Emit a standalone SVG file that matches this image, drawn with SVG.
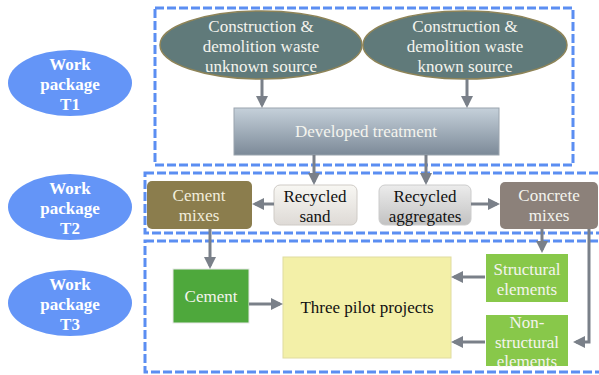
<svg xmlns="http://www.w3.org/2000/svg" width="599" height="375" viewBox="0 0 599 375">
<defs>
<style>
.wp{fill:#6495f7}
.wpt{font-family:'Liberation Serif',serif;font-size:17px;font-weight:bold;fill:#ffffff;text-anchor:middle}
.dash{fill:#ffffff;stroke:#5b8ef2;stroke-width:3;stroke-dasharray:9 3}
.t{font-family:'Liberation Serif',serif;font-size:17px;text-anchor:middle}
.w{fill:#f4f4ee}
.k{fill:#111111}
.conn{stroke:#7a8089;stroke-width:3;fill:none;marker-end:url(#ah)}
</style>
<linearGradient id="gDT" x1="0" y1="0" x2="0" y2="1">
<stop offset="0" stop-color="#c5d0da"/>
<stop offset="1" stop-color="#7c8a98"/>
</linearGradient>
<linearGradient id="gRS" x1="0" y1="0" x2="0" y2="1">
<stop offset="0" stop-color="#f8f7f3"/>
<stop offset="1" stop-color="#dedad6"/>
</linearGradient>
<linearGradient id="gRA" x1="0" y1="0" x2="0" y2="1">
<stop offset="0" stop-color="#ececec"/>
<stop offset="1" stop-color="#c2c2c2"/>
</linearGradient>
<marker id="ah" markerWidth="4" markerHeight="4" refX="3" refY="2" orient="auto" markerUnits="strokeWidth">
<path d="M0,0 L4,2 L0,4 z" fill="#7a8089"/>
</marker>
</defs>
<rect width="599" height="375" fill="#ffffff"/>

<g id="frames">
<rect class="dash" x="145" y="241" width="470" height="131"/>
<rect class="dash" x="145" y="173" width="470" height="60"/>
<rect class="dash" x="155" y="8" width="418" height="157"/>
</g>

<g id="wpT1"><ellipse class="wp" cx="70" cy="83" rx="62" ry="33"/>
<text class="wpt" font-family="Liberation Serif" x="70" y="70">Work</text><text class="wpt" font-family="Liberation Serif" x="70" y="90">package</text><text class="wpt" font-family="Liberation Serif" x="70" y="110">T1</text></g>
<g id="wpT2"><ellipse class="wp" cx="70" cy="207" rx="62" ry="33"/>
<text class="wpt" font-family="Liberation Serif" x="70" y="194">Work</text><text class="wpt" font-family="Liberation Serif" x="70" y="214">package</text><text class="wpt" font-family="Liberation Serif" x="70" y="234">T2</text></g>
<g id="wpT3"><ellipse class="wp" cx="70" cy="303" rx="62" ry="33"/>
<text class="wpt" font-family="Liberation Serif" x="70" y="290">Work</text><text class="wpt" font-family="Liberation Serif" x="70" y="310">package</text><text class="wpt" font-family="Liberation Serif" x="70" y="330">T3</text></g>

<g id="cdwUnknown"><ellipse cx="261" cy="45" rx="101" ry="34" fill="#607a7a" stroke="#8e8458" stroke-width="1.5"/>
<text class="t w" font-family="Liberation Serif" x="261" y="32">Construction &amp;</text><text class="t w" font-family="Liberation Serif" x="261" y="52">demolition waste</text><text class="t w" font-family="Liberation Serif" x="261" y="72">unknown source</text></g>
<g id="cdwKnown"><ellipse cx="465" cy="45" rx="102" ry="34" fill="#607a7a" stroke="#8e8458" stroke-width="1.5"/>
<text class="t w" font-family="Liberation Serif" x="465" y="32">Construction &amp;</text><text class="t w" font-family="Liberation Serif" x="465" y="52">demolition waste</text><text class="t w" font-family="Liberation Serif" x="465" y="72">known source</text></g>

<g id="treatment"><rect x="234" y="108" width="265" height="47" fill="url(#gDT)" stroke="#9aa4ae" stroke-width="1"/>
<text class="t w" font-family="Liberation Serif" x="366" y="137">Developed treatment</text></g>

<g id="cementMixes"><rect x="147" y="181" width="105" height="48" rx="5" fill="#8b7d4d"/>
<text class="t" font-family="Liberation Serif" x="199" y="201" fill="#f2eedc">Cement</text><text class="t" font-family="Liberation Serif" x="199" y="221" fill="#f2eedc">mixes</text></g>
<g id="recycledSand"><rect x="274" y="185" width="83" height="40" rx="6" fill="url(#gRS)" stroke="#cfcbc6" stroke-width="1"/>
<text class="t k" font-family="Liberation Serif" x="315" y="202">Recycled</text><text class="t k" font-family="Liberation Serif" x="315" y="222">sand</text></g>
<g id="recycledAgg"><rect x="379" y="185" width="92" height="40" rx="6" fill="url(#gRA)" stroke="#cccccc" stroke-width="1"/>
<text class="t k" font-family="Liberation Serif" x="425" y="202">Recycled</text><text class="t k" font-family="Liberation Serif" x="425" y="222">aggregates</text></g>
<g id="concreteMixes"><rect x="500" y="182" width="98" height="47" rx="5" fill="#8c817a"/>
<text class="t w" font-family="Liberation Serif" x="549" y="201">Concrete</text><text class="t w" font-family="Liberation Serif" x="549" y="221">mixes</text></g>

<g id="cement"><rect x="173" y="269" width="76" height="54" fill="#4ea83c" stroke="#e8e8e8" stroke-width="1"/>
<text class="t w" font-family="Liberation Serif" x="211" y="302">Cement</text></g>
<g id="pilot"><rect x="283" y="257" width="168" height="101" fill="#f3f0a8" stroke="#e0dca0" stroke-width="1"/>
<text class="t k" font-family="Liberation Serif" x="367" y="313">Three pilot projects</text></g>
<g id="structural"><rect x="485" y="253" width="84" height="50" fill="#88c84a" stroke="#ffffff" stroke-width="2"/>
<text class="t w" font-family="Liberation Serif" x="527" y="275">Structural</text><text class="t w" font-family="Liberation Serif" x="527" y="295">elements</text></g>
<g id="nonStructural"><rect x="485" y="314" width="84" height="53" fill="#88c84a" stroke="#ffffff" stroke-width="2"/>
<text class="t w" font-family="Liberation Serif" x="527" y="328">Non-</text><text class="t w" font-family="Liberation Serif" x="527" y="348">structural</text><text class="t w" font-family="Liberation Serif" x="527" y="367">elements</text></g>

<g id="connectors">
<line class="conn" x1="262" y1="79" x2="262" y2="105"/>
<line class="conn" x1="467" y1="79" x2="467" y2="105"/>
<line class="conn" x1="314" y1="155" x2="314" y2="182"/>
<line class="conn" x1="426" y1="155" x2="426" y2="182"/>
<line class="conn" x1="274" y1="204" x2="255" y2="204"/>
<line class="conn" x1="471" y1="204" x2="497" y2="204"/>
<line class="conn" x1="210" y1="229" x2="210" y2="266"/>
<line class="conn" x1="249" y1="304" x2="280" y2="304"/>
<line class="conn" x1="542" y1="229" x2="542" y2="250"/>
<polyline class="conn" points="589,229 589,342 576,342"/>
<line class="conn" x1="485" y1="277" x2="454" y2="277"/>
<line class="conn" x1="485" y1="342" x2="454" y2="342"/>
</g>
</svg>
